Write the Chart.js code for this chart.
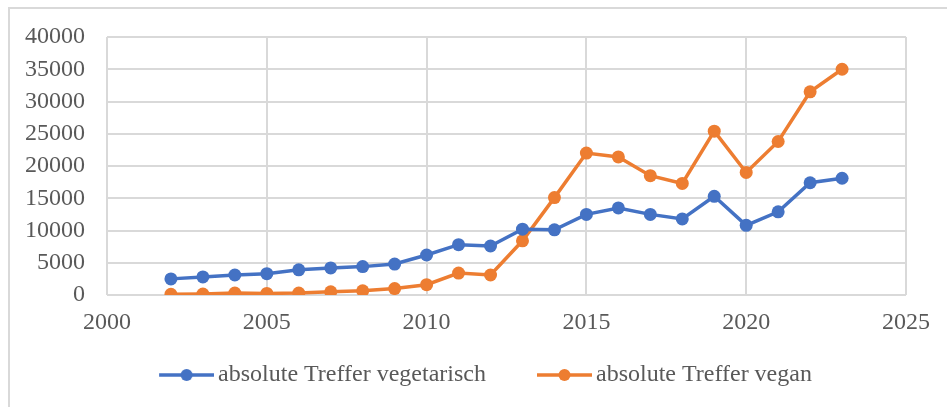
<!DOCTYPE html>
<html>
<head>
<meta charset="utf-8">
<script src="https://cdn.jsdelivr.net/npm/chart.js@4/dist/chart.umd.min.js"></script>
<style>
  html, body { margin: 0; padding: 0; background: #ffffff; }
  #wrap { position: relative; width: 947px; height: 407px; overflow: hidden; }
  #frame { position: absolute; left: 8px; top: 7px; width: 960px; height: 420px;
           border-left: 2px solid #d9d9d9; border-top: 2px solid #d9d9d9; }
  canvas { position: absolute; left: 0; top: 0; }
</style>
</head>
<body>
<div id="wrap">
  <div id="frame"></div>
  <canvas id="c" width="947" height="407"></canvas>
</div>
<script>
const years = [2002, 2003, 2004, 2005, 2006, 2007, 2008, 2009, 2010, 2011, 2012,
               2013, 2014, 2015, 2016, 2017, 2018, 2019, 2020, 2021, 2022, 2023];
const vegetarisch = [2500, 2800, 3100, 3300, 3900, 4200, 4400, 4800, 6200, 7800, 7600,
                     10200, 10100, 12500, 13500, 12500, 11800, 15300, 10800, 12900, 17400, 18100];
const vegan = [100, 150, 300, 250, 300, 500, 650, 1000, 1600, 3400, 3100,
               8400, 15100, 22000, 21400, 18500, 17300, 25400, 19000, 23800, 31500, 35000];
const seriesNames = ['absolute Treffer vegetarisch', 'absolute Treffer vegan'];
const xTicks = [2000, 2005, 2010, 2015, 2020, 2025];
const yTicks = [0, 5000, 10000, 15000, 20000, 25000, 30000, 35000, 40000];

const BLUE = '#4472C4';
const ORANGE = '#ED7D31';
const TEXT = '#595959';
const GRID = '#d9d9d9';
const FONT = "'Liberation Serif', 'Times New Roman', serif";
const FS = 24;

// legend marker: line with a dot, drawn on the right part of a wider transparent image
const BOXW = 78;
function legendMarker(color) {
  const cw = BOXW + 16;
  const cv = document.createElement('canvas');
  cv.width = cw; cv.height = 14;
  const g = cv.getContext('2d');
  g.strokeStyle = color; g.lineWidth = 3.5;
  g.beginPath(); g.moveTo(cw - 55, 7); g.lineTo(cw, 7); g.stroke();
  g.fillStyle = color;
  g.beginPath(); g.arc(cw - 27.5, 7, 6, 0, Math.PI * 2); g.fill();
  return cv;
}
const markers = [legendMarker(BLUE), legendMarker(ORANGE)];

const toPts = arr => years.map((y, i) => ({ x: y, y: arr[i] }));

new Chart(document.getElementById('c'), {
  type: 'line',
  data: {
    datasets: [
      { label: seriesNames[0], data: toPts(vegetarisch), borderColor: BLUE, backgroundColor: BLUE,
        borderWidth: 3.5, pointRadius: 6.5, pointBorderWidth: 0, pointBackgroundColor: BLUE, tension: 0 },
      { label: seriesNames[1], data: toPts(vegan), borderColor: ORANGE, backgroundColor: ORANGE,
        borderWidth: 3.5, pointRadius: 6.5, pointBorderWidth: 0, pointBackgroundColor: ORANGE, tension: 0 }
    ]
  },
  options: {
    responsive: false,
    animation: false,
    devicePixelRatio: 1,
    layout: { padding: { left: 20, right: 27, top: 37, bottom: 10 } },
    plugins: {
      tooltip: { enabled: false },
      legend: {
        position: 'bottom',
        labels: {
          usePointStyle: true,
          pointStyleWidth: BOXW,
          boxHeight: 14,
          padding: 20,
          color: TEXT,
          font: { family: FONT, size: FS },
          generateLabels: chart => chart.data.datasets.map((ds, i) => ({
            text: ds.label, pointStyle: markers[i], fillStyle: ds.borderColor,
            strokeStyle: ds.borderColor, lineWidth: 0, fontColor: TEXT, datasetIndex: i, hidden: false
          }))
        }
      }
    },
    scales: {
      x: {
        type: 'linear', min: 2000, max: 2025,
        afterBuildTicks: s => { s.ticks = xTicks.map(v => ({ value: v })); },
        afterFit: s => { s.height = 48; },
        grid: { color: GRID, lineWidth: 2, drawTicks: false },
        border: { display: false },
        ticks: { color: TEXT, font: { family: FONT, size: FS }, padding: 13, maxRotation: 0,
                 callback: v => String(v) }
      },
      y: {
        min: 0, max: 40000,
        afterBuildTicks: s => { s.ticks = yTicks.map(v => ({ value: v })); },
        afterFit: s => { s.width = 87; },
        grid: { color: GRID, lineWidth: 2, drawTicks: false },
        border: { display: false },
        ticks: { color: TEXT, font: { family: FONT, size: FS }, padding: 22,
                 callback: v => String(v) }
      },
      yRight: {
        position: 'right', display: true,
        grid: { display: false, drawTicks: false }, border: { display: false },
        ticks: { display: false },
        afterFit: s => { s.width = 14; }
      }
    }
  }
});
</script>
</body>
</html>
